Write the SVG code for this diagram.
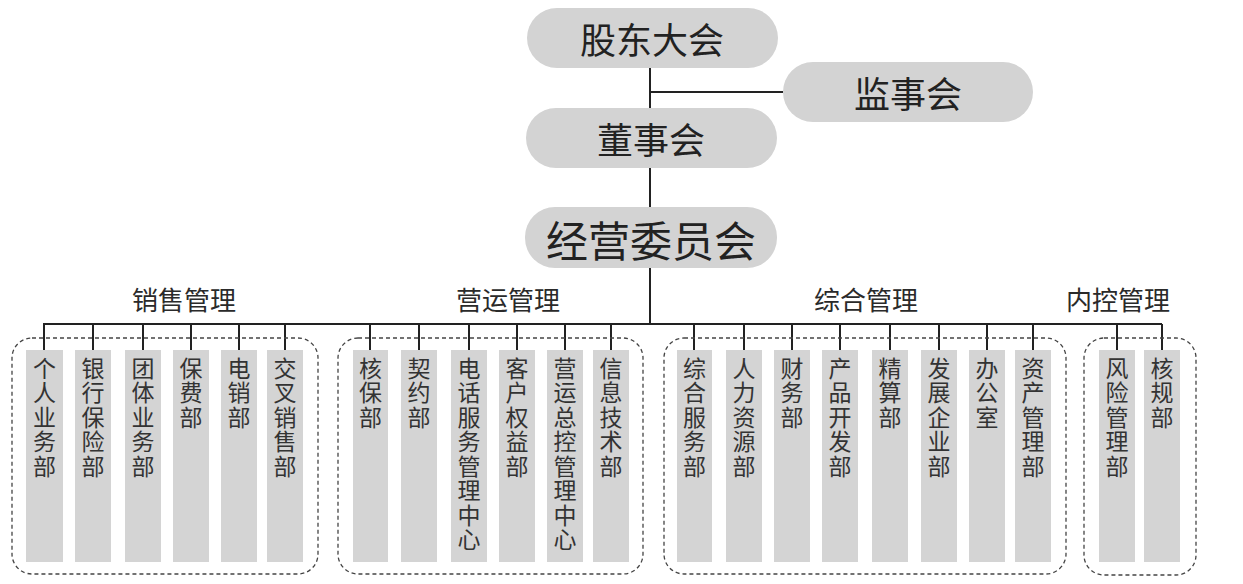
<svg xmlns="http://www.w3.org/2000/svg" width="1243" height="584" viewBox="0 0 1243 584">
<style>
.box{fill:#d3d3d3}
.bar{fill:#d4d4d4}
.grp{fill:none;stroke:#444;stroke-width:1.3;stroke-dasharray:4 3}
.ln{stroke:#222;stroke-width:2;fill:none}
.t{font-family:"Noto Sans CJK SC","Noto Sans CJK TC",sans-serif;text-anchor:middle;dominant-baseline:central;fill:#222}
.top{font-size:36px}
.big{font-size:42px}
.lab{font-size:26px;fill:#2a2a2a}
.v{font-family:"Noto Sans CJK SC","Noto Sans CJK TC",sans-serif;font-size:23px;fill:#333;writing-mode:vertical-rl;text-anchor:start;letter-spacing:1.5px}
</style>
<rect width="1243" height="584" fill="#fff"/>
<g id="connectors">
<path class="ln" d="M650 68V108M650 92H783M650 168V207M650 268V324M43 324H1162"/>
<path class="ln" d="M44 324V350M93 324V350M143 324V350M191 324V350M239 324V350M285 324V350M370 324V350M419 324V350M469 324V350M517 324V350M565 324V350M611 324V350M694 324V350M744 324V350M792 324V350M840 324V350M890 324V350M939 324V350M987 324V350M1033 324V350M1117 324V350M1162 324V350"/>
</g>
<g id="n_gudong"><rect class="box" x="527" y="8" width="251" height="60" rx="30"/><text class="t top" x="652" y="38">股东大会</text></g>
<g id="n_jianshi"><rect class="box" x="783" y="62" width="250" height="60" rx="30"/><text class="t top" x="908" y="92">监事会</text></g>
<g id="n_dongshi"><rect class="box" x="526" y="108" width="251" height="60" rx="30"/><text class="t top" x="651" y="138">董事会</text></g>
<g id="n_jingying"><rect class="box" x="525" y="207" width="252" height="61" rx="30"/><text class="t big" x="651" y="238">经营委员会</text></g>
<g id="lab_xs"><text class="t lab" x="184" y="298">销售管理</text></g>
<g id="lab_yy"><text class="t lab" x="508" y="298">营运管理</text></g>
<g id="lab_zh"><text class="t lab" x="866" y="298">综合管理</text></g>
<g id="lab_nk"><text class="t lab" x="1118" y="298">内控管理</text></g>
<g id="g_xs"><rect class="grp" x="12" y="338" width="306" height="236" rx="20"/></g>
<g id="g_yy"><rect class="grp" x="338" y="338" width="305" height="236" rx="20"/></g>
<g id="g_zh"><rect class="grp" x="664" y="338" width="402" height="236" rx="20"/></g>
<g id="g_nk"><rect class="grp" x="1084" y="338" width="112" height="237" rx="20"/></g>
<g id="d1"><rect class="bar" x="26" y="350" width="37" height="212"/><text class="v" x="44.5" y="356.5">个人业务部</text></g>
<g id="d2"><rect class="bar" x="75" y="350" width="36" height="212"/><text class="v" x="93" y="356.5">银行保险部</text></g>
<g id="d3"><rect class="bar" x="125" y="350" width="36" height="212"/><text class="v" x="143" y="356.5">团体业务部</text></g>
<g id="d4"><rect class="bar" x="173" y="350" width="36" height="212"/><text class="v" x="191" y="356.5">保费部</text></g>
<g id="d5"><rect class="bar" x="221" y="350" width="36" height="212"/><text class="v" x="239" y="356.5">电销部</text></g>
<g id="d6"><rect class="bar" x="267" y="350" width="36" height="212"/><text class="v" x="285" y="356.5">交叉销售部</text></g>
<g id="d7"><rect class="bar" x="353" y="350" width="35" height="212"/><text class="v" x="370.5" y="356.5">核保部</text></g>
<g id="d8"><rect class="bar" x="401" y="350" width="36" height="212"/><text class="v" x="419" y="356.5">契约部</text></g>
<g id="d9"><rect class="bar" x="451" y="350" width="36" height="212"/><text class="v" x="469" y="356.5">电话服务管理中心</text></g>
<g id="d10"><rect class="bar" x="499" y="350" width="36" height="212"/><text class="v" x="517" y="356.5">客户权益部</text></g>
<g id="d11"><rect class="bar" x="547" y="350" width="36" height="212"/><text class="v" x="565" y="356.5">营运总控管理中心</text></g>
<g id="d12"><rect class="bar" x="593" y="350" width="36" height="212"/><text class="v" x="611" y="356.5">信息技术部</text></g>
<g id="d13"><rect class="bar" x="677" y="350" width="35" height="212"/><text class="v" x="694.5" y="356.5">综合服务部</text></g>
<g id="d14"><rect class="bar" x="726" y="350" width="36" height="212"/><text class="v" x="744" y="356.5">人力资源部</text></g>
<g id="d15"><rect class="bar" x="774" y="350" width="36" height="212"/><text class="v" x="792" y="356.5">财务部</text></g>
<g id="d16"><rect class="bar" x="822" y="350" width="36" height="212"/><text class="v" x="840" y="356.5">产品开发部</text></g>
<g id="d17"><rect class="bar" x="872" y="350" width="36" height="212"/><text class="v" x="890" y="356.5">精算部</text></g>
<g id="d18"><rect class="bar" x="921" y="350" width="36" height="212"/><text class="v" x="939" y="356.5">发展企业部</text></g>
<g id="d19"><rect class="bar" x="969" y="350" width="36" height="212"/><text class="v" x="987" y="356.5">办公室</text></g>
<g id="d20"><rect class="bar" x="1015" y="350" width="36" height="212"/><text class="v" x="1033" y="356.5">资产管理部</text></g>
<g id="d21"><rect class="bar" x="1099" y="350" width="36" height="212"/><text class="v" x="1117" y="356.5">风险管理部</text></g>
<g id="d22"><rect class="bar" x="1144" y="350" width="36" height="212"/><text class="v" x="1162" y="356.5">核规部</text></g>
</svg>
